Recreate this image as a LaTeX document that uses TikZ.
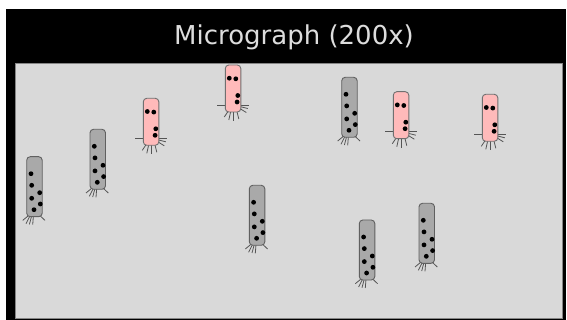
\documentclass[tikz,border=0pt]{standalone}
\usepackage{fontspec}
\setmainfont{DejaVu Sans}
\definecolor{fieldgray}{HTML}{D9D9D9}
\definecolor{fieldedge}{HTML}{858585}
\definecolor{titlegray}{HTML}{DDDDDD}
\definecolor{rodgray}{HTML}{A9A9A9}
\definecolor{rodedge}{HTML}{606060}
\definecolor{cellpink}{HTML}{FFBABA}
\definecolor{pinkedge}{HTML}{707070}
\definecolor{ciliagray}{HTML}{555555}
\begin{document}
\begin{tikzpicture}[x=1pt,y=-1pt,
  cilia/.style={draw=ciliagray,line width=0.8pt},
  rodbody/.style={fill=rodgray,draw=rodedge,line width=0.9pt,rounded corners=3.5pt},
  pinkbody/.style={fill=cellpink,draw=pinkedge,line width=0.9pt,rounded corners=3.5pt},
  granule/.style={fill=black},
  % grey rod-shaped cell, 15.5 x 60, with a tuft of flagella at its base
  rod/.pic={
    \draw[cilia] (1.7,59) -- (-4,63.7);
    \draw[cilia] (3.3,59) -- (-0.7,67);
    \draw[cilia] (5,59) -- (2.7,67.7);
    \draw[cilia] (6.7,59) -- (6,68);
    \draw[cilia] (13.3,59) -- (18.3,63.7);
    \draw[rodbody] (0,0) rectangle (15.5,60);
    \fill[granule] (4.3,17) circle (2.4);
    \fill[granule] (5,28.6) circle (2.4);
    \fill[granule] (13,36) circle (2.4);
    \fill[granule] (5,41.6) circle (2.4);
    \fill[granule] (13.6,47.3) circle (2.4);
    \fill[granule] (7.3,53) circle (2.4);
  },
  % pink cell, 15.5 x 47, with a ring of cilia near its base
  pinkcell/.pic={
    \draw[cilia] (-8,40) -- (23.5,40);
    \draw[cilia] (14.5,41.5) -- (22.5,43.5);
    \draw[cilia] (14.5,43.5) -- (21,47.5);
    \draw[cilia] (3,46) -- (-1,52);
    \draw[cilia] (5.5,46) -- (3.5,55);
    \draw[cilia] (8.5,46) -- (8.5,56);
    \draw[cilia] (11.5,46) -- (13.5,54);
    \draw[pinkbody] (0,0) rectangle (15.5,47);
    \fill[granule] (4,13.2) circle (2.4);
    \fill[granule] (10.5,13.8) circle (2.4);
    \fill[granule] (12.5,30.5) circle (2.4);
    \fill[granule] (11.8,37) circle (2.4);
  }]
\useasboundingbox (0,0) rectangle (567,320);
\fill[white] (0,0) rectangle (567,320);
% black frame and title bar
\fill[black] (6,9) rectangle (566,320);
\node[text=titlegray,font=\fontsize{26}{30}\selectfont,anchor=base,inner sep=0pt] (title) at (294,45) {Micrograph (200x)};
% field of view
\draw[fill=fieldgray,draw=fieldedge,line width=0.8pt] (15,63) rectangle (562,318.5);
% grey rods
\pic (rodA) at (26.7,156.7) {rod};
\pic (rodB) at (90,129.3) {rod};
\pic (rodC) at (341.7,77.3) {rod};
\pic (rodD) at (249.3,185.3) {rod};
\pic (rodE) at (359.3,220) {rod};
\pic (rodF) at (419,203.3) {rod};
% pink cells
\pic (pinkA) at (143.3,98.3) {pinkcell};
\pic (pinkB) at (225.3,65) {pinkcell};
\pic (pinkC) at (393.3,91.7) {pinkcell};
\pic (pinkD) at (482.3,94.3) {pinkcell};
\end{tikzpicture}
\end{document}
